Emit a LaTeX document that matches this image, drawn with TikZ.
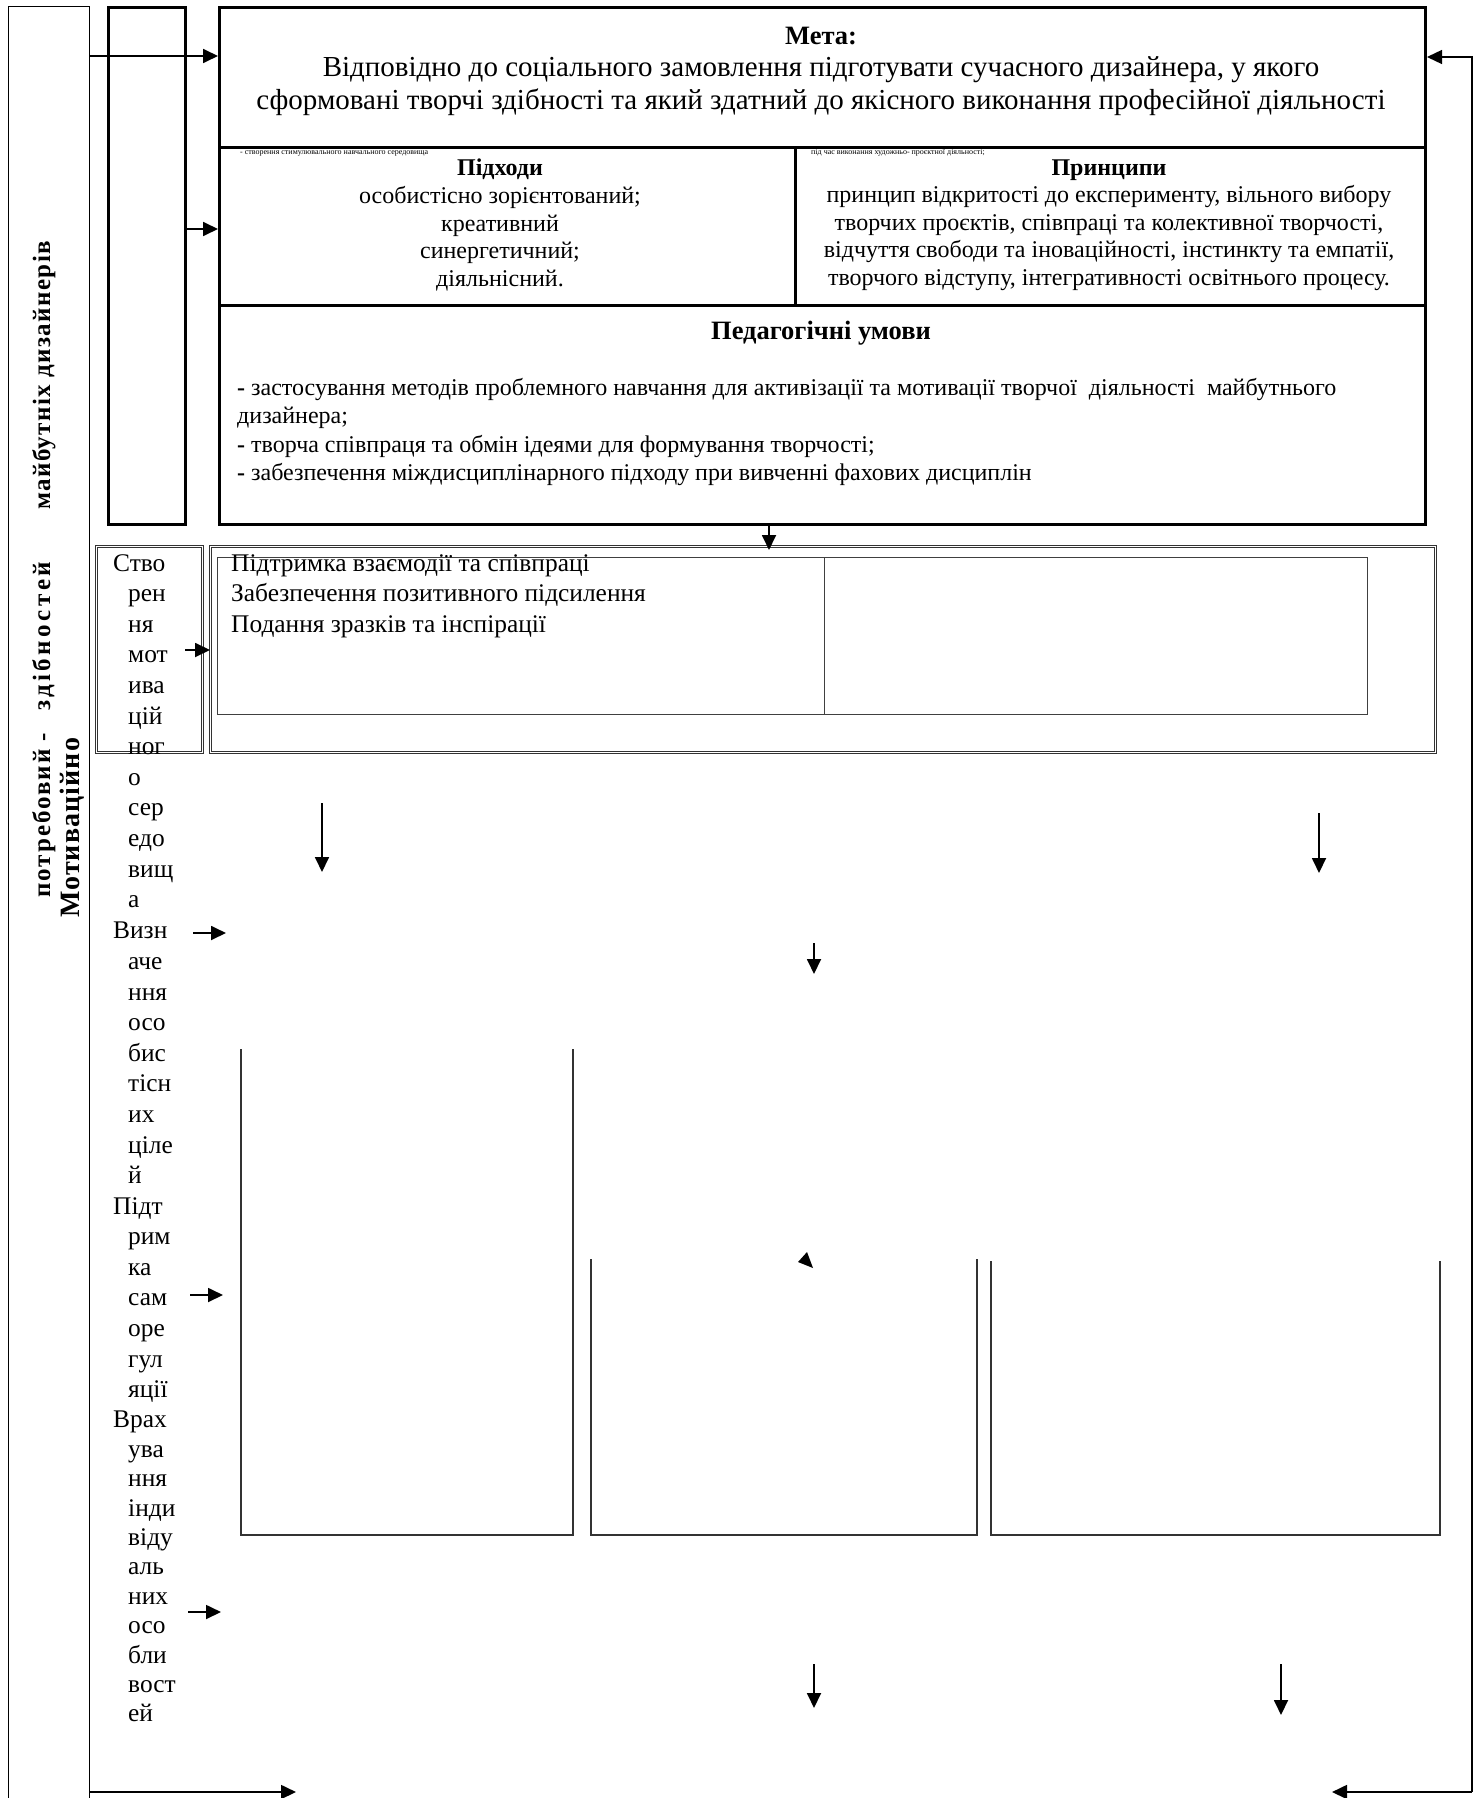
\documentclass[tikz,border=0pt]{standalone}
\usepackage{fontspec}
\setmainfont{Liberation Serif}
\usetikzlibrary{arrows.meta}
\usetikzlibrary{positioning}
\tikzset{thickbox/.style = {draw, line width = 3pt, inner sep = 0, anchor = north west}}
\tikzset{thinbox/.style = {draw, line width = 1.4pt, inner sep = 0, anchor = north west}}
\tikzset{dblbox/.style = {draw = black!80, double, double distance = 1.5pt, line width = 0.9pt, inner sep = 0, anchor = north west}}
\tikzset{cellbox/.style = {draw = black!75, line width = 1pt, inner sep = 0, anchor = north west}}
\tikzset{arr/.style = {line width = 1.8pt, -{Triangle[length = 15pt, width = 14pt]}}}
\tikzset{ubox/.style = {line width = 1.6pt, black!80}}
\tikzset{txt/.style = {inner sep = 0, font = \fontsize{24}{27.6}\selectfont}}
\tikzset{coltxt/.style = {inner sep = 0, align = left, font = \fontsize{25.4}{30.6}\selectfont}}
\tikzset{tinytxt/.style = {inner sep = 0, anchor = west, font = \fontsize{8}{9}\selectfont}}
\tikzset{sidetxt/.style = {inner sep = 0, rotate = 90, anchor = base west, font = \bfseries\fontsize{25}{28}\selectfont\addfontfeatures{LetterSpace = 8}}}
\newcommand{\colind}{\hspace*{15pt}}

\begin{document}
\begin{tikzpicture}[x = 1pt, y = -1pt]
  \useasboundingbox (0, 0) rectangle (1474, 1798);

  % left column
  \node [thinbox, minimum width = 81, minimum height = 1830] (sidebar) at (8, 6) {};
  \node [thickbox, minimum width = 77, minimum height = 517] (sidebox) at (107, 6) {};
  \node [sidetxt] (need) at (50, 898) {потребовий -};
  \node [sidetxt, font = \bfseries\fontsize{25}{28}\selectfont\addfontfeatures{LetterSpace = 14}] (ability) at (50, 711) {здібностей};
  \node [sidetxt, font = \bfseries\fontsize{25}{28}\selectfont\addfontfeatures{LetterSpace = 5.5}] (future) at (50, 510) {майбутніх дизайнерів};
  \node [sidetxt, font = \bfseries\fontsize{28}{30}\selectfont\addfontfeatures{LetterSpace = 4}] (motiv) at (79, 918) {Мотиваційно};

  % upper block
  \node [thickbox, minimum width = 1206, minimum height = 140] (goal) at (218, 6) {};
  \node [thickbox, minimum width = 576, minimum height = 158] (approach) at (218, 146) {};
  \node [thickbox, minimum width = 630, minimum height = 158] (principle) at (794, 146) {};
  \node [thickbox, minimum width = 1206, minimum height = 219] (condition) at (218, 304) {};

  \node [inner sep = 0, font = \bfseries\fontsize{26.5}{30}\selectfont] (goaltitle) at (821, 36) {Мета:};
  \node [inner sep = 0, align = center, font = \fontsize{29}{33}\selectfont] (goaltext) at (821, 86)
    {Відповідно до соціального замовлення підготувати сучасного дизайнера, у якого\\
     сформовані творчі здібності та який здатний до якісного виконання професійної діяльності};
  \node [tinytxt] (envnote) at (240, 153) {- створення стимулювального навчального середовища};
  \node [tinytxt] (worknote) at (811, 153) {під час виконання художньо- проєктної діяльності;};
  \node [txt, align = center] (approachtext) at (500, 225)
    {\textbf{Підходи}\\особистісно зорієнтований;\\креативний\\синергетичний;\\діяльнісний.};
  \node [txt, align = center] (principletext) at (1109, 225)
    {\textbf{Принципи}\\принцип відкритості до експерименту, вільного вибору\\
     творчих проєктів, співпраці та колективної творчості,\\
     відчуття свободи та іноваційності, інстинкту та емпатії,\\
     творчого відступу, інтегративності освітнього процесу.};
  \node [inner sep = 0, font = \bfseries\fontsize{26.5}{30}\selectfont] (conditiontitle) at (821, 333) {Педагогічні умови};
  \node [txt, align = left, anchor = west, font = \fontsize{24}{28.3}\selectfont] (conditiontext) at (237, 432)
    {\textbf{-} застосування методів проблемного навчання для активізації та мотивації творчої~ діяльності~ майбутнього\\
     дизайнера;\\
     \textbf{-} творча співпраця та обмін ідеями для формування творчості;\\
     \textbf{-} забезпечення міждисциплінарного підходу при вивченні фахових дисциплін};

  % lower block
  \node [dblbox, minimum width = 106, minimum height = 206] (motivbox) at (96, 546) {};
  \node [dblbox, minimum width = 1225, minimum height = 206] (supportbox) at (210, 546) {};
  \node [cellbox, minimum width = 607.5, minimum height = 157] (supportcell) at (216.5, 557) {};
  \node [cellbox, minimum width = 543, minimum height = 157] (emptycell) at (824, 557) {};
  \node [coltxt, anchor = west] (supporttext) at (231, 596)
    {Підтримка взаємодії та співпраці\\Забезпечення позитивного підсилення\\Подання зразків та інспірації};

  \node [coltxt, anchor = north west] (stvo) at (113, 554)
    {Ство\\\colind рен\\\colind ня\\\colind мот\\\colind ива\\\colind цій\\\colind ног\\\colind о\\\colind сер\\\colind едо\\\colind вищ\\\colind а};
  \node [coltxt, anchor = north west] (vyzn) at (113, 922)
    {Визн\\\colind аче\\\colind ння\\\colind осо\\\colind бис\\\colind тісн\\\colind их\\\colind ціле\\\colind й};
  \node [coltxt, anchor = north west] (pidt) at (113, 1197)
    {Підт\\\colind рим\\\colind ка\\\colind сам\\\colind оре\\\colind гул\\\colind яції};
  \node [coltxt, anchor = north west, font = \fontsize{25.4}{29.4}\selectfont] (vrakh) at (113, 1411)
    {Врах\\\colind ува\\\colind ння\\\colind інди\\\colind віду\\\colind аль\\\colind них\\\colind осо\\\colind бли\\\colind вост\\\colind ей};

  % open boxes
  \draw [ubox] (241, 1049) |- (573, 1535) -- (573, 1049);
  \draw [ubox] (591, 1259) |- (977, 1535) -- (977, 1259);
  \draw [ubox] (991, 1261) |- (1440, 1535) -- (1440, 1261);
  \fill (807, 1252) -- (798, 1262) -- (813, 1268) -- cycle;

  % connectors
  \coordinate (goalin) at (89, 56);
  \coordinate (loopbot) at (1472, 1792);
  \coordinate (looptop) at (1472, 57);
  \coordinate (outleft) at (296, 1792);
  \coordinate (outright) at (1332, 1792);
  \coordinate (condout) at (769, 550);
  \coordinate (motivout) at (185, 650);
  \coordinate (vyznout) at (193, 933);
  \coordinate (vyznend) at (226, 933);
  \coordinate (pidtout) at (190, 1295);
  \coordinate (pidtend) at (223, 1295);
  \coordinate (vrakhout) at (188, 1612);
  \coordinate (vrakhend) at (221, 1612);
  \draw [arr] (goalin) -- (goal.west |- goalin);
  \draw [arr] (sidebox.east |- 0, 229) -- (approach.west |- 0, 229);
  \draw [arr, line width = 1.4pt] (loopbot) -- (looptop) -- (goal.east |- looptop);
  \draw [arr] (loopbot) -- (outright);
  \draw [arr] (sidebar.east |- outleft) -- (outleft);
  \draw [arr] (condition.south -| condout) -- (condout);
  \draw [arr] (motivout) -- (supportbox.west |- motivout);
  \draw [arr] (vyznout) -- (vyznend);
  \draw [arr] (pidtout) -- (pidtend);
  \draw [arr] (vrakhout) -- (vrakhend);
  \draw [arr] (322, 803) -- (322, 872);
  \draw [arr] (1319, 813) -- (1319, 873);
  \draw [arr] (814, 943) -- (814, 974);
  \draw [arr] (814, 1664) -- (814, 1708);
  \draw [arr] (1281, 1664) -- (1281, 1715);
\end{tikzpicture}
\end{document}
